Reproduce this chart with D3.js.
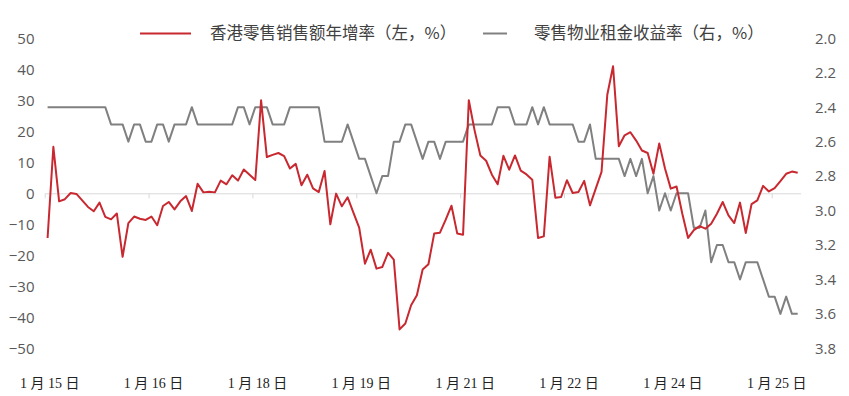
<!DOCTYPE html>
<html>
<head>
<meta charset="utf-8">
<script src="https://cdn.jsdelivr.net/npm/d3@7"></script>
<style>
  body { margin: 0; background: #fff; }
  svg { display: block; }
  .axis text { font-family: "Open Sans", "Noto Sans", sans-serif; font-size: 15px; fill: #595959; }
  .legend text { font-family: "Noto Sans CJK SC", sans-serif; font-size: 16.5px; fill: #404040; }
  .x-label { font-family: "Liberation Serif", "Noto Sans CJK SC", serif; font-size: 14px; fill: #222; }
</style>
</head>
<body>
<div id="chart"></div>
<script>
// Monthly data, Jan 2015 - Nov 2025
const startMonth = new Date(2015, 0, 1);
const monthCount = 131;

// 香港零售销售额年增率 (left axis, %)
const retailGrowth = [
  -14.4, 15.0, -2.6, -1.9, 0.1, -0.2, -2.3, -4.4, -5.8, -3.0, -7.6, -8.4,
  -6.5, -20.5, -9.6, -7.5, -8.2, -8.6, -7.5, -10.3, -4.1, -2.8, -5.2, -2.6,
  -0.9, -5.7, 3.1, 0.3, 0.5, 0.3, 4.1, 2.9, 5.8, 4.1, 7.7, 6.0,
  4.3, 30.0, 11.7, 12.4, 13.0, 12.0, 8.0, 9.5, 2.6, 6.0, 1.6, 0.4,
  7.2, -10.0, -0.1, -4.2, -1.3, -6.2, -11.1, -22.7, -18.2, -24.3, -23.8, -19.2,
  -21.4, -43.9, -42.0, -36.1, -32.9, -24.6, -22.9, -13.0, -12.7, -8.5, -4.0, -13.0,
  -13.4, 30.0, 20.3, 12.2, 10.5, 6.0, 2.9, 12.1, 7.6, 12.2, 7.3, 6.1,
  4.4, -14.4, -13.9, 11.8, -1.4, -1.2, 4.2, 0.1, 0.4, 4.0, -3.9, 1.5,
  6.9, 31.8, 41.0, 15.2, 18.7, 19.7, 17.0, 13.8, 13.0, 6.3, 16.1, 8.0,
  1.5, 2.2, -6.6, -14.4, -11.9, -10.6, -11.4, -9.8, -6.6, -2.8, -7.1, -9.6,
  -3.0, -12.8, -3.5, -2.3, 2.4, 0.6, 1.7, 3.9, 6.3, 7.0, 6.6
];

// 零售物业租金收益率 (right axis, %, inverted)
const rentalYield = [
  2.4, 2.4, 2.4, 2.4, 2.4, 2.4, 2.4, 2.4, 2.4, 2.4, 2.4, 2.5,
  2.5, 2.5, 2.6, 2.5, 2.5, 2.6, 2.6, 2.5, 2.5, 2.6, 2.5, 2.5,
  2.5, 2.4, 2.5, 2.5, 2.5, 2.5, 2.5, 2.5, 2.5, 2.4, 2.4, 2.5,
  2.4, 2.4, 2.4, 2.5, 2.5, 2.5, 2.4, 2.4, 2.4, 2.4, 2.4, 2.4,
  2.6, 2.6, 2.6, 2.6, 2.5, 2.6, 2.7, 2.7, 2.8, 2.9, 2.8, 2.8,
  2.6, 2.6, 2.5, 2.5, 2.6, 2.7, 2.6, 2.6, 2.7, 2.6, 2.6, 2.6,
  2.6, 2.5, 2.5, 2.5, 2.5, 2.5, 2.4, 2.4, 2.4, 2.5, 2.5, 2.5,
  2.4, 2.5, 2.4, 2.5, 2.5, 2.5, 2.5, 2.5, 2.6, 2.6, 2.5, 2.7,
  2.7, 2.7, 2.7, 2.7, 2.8, 2.7, 2.8, 2.7, 2.9, 2.8, 3.0, 2.9,
  3.0, 2.9, 2.9, 2.9, 3.1, 3.1, 3.0, 3.3, 3.2, 3.2, 3.3, 3.3,
  3.4, 3.3, 3.3, 3.3, 3.4, 3.5, 3.5, 3.6, 3.5, 3.6, 3.6
];

// x-axis ticks every 18 months, labels as printed on the source
const tickMonths = [0, 18, 36, 54, 72, 90, 108, 126];
const tickLabels = ["1 月 15 日", "1 月 16 日", "1 月 18 日", "1 月 19 日",
  "1 月 21 日", "1 月 22 日", "1 月 24 日", "1 月 25 日"];

const leftTicks = [50, 40, 30, 20, 10, 0, -10, -20, -30, -40, -50];
const rightTicks = [2.0, 2.2, 2.4, 2.6, 2.8, 3.0, 3.2, 3.4, 3.6, 3.8];

const legendItems = [
  { name: "香港零售销售额年增率（左，%）", color: "#c8282f" },
  { name: "零售物业租金收益率（右，%）", color: "#808080" }
];

const months = d3.range(monthCount).map((i) => d3.timeMonth.offset(startMonth, i));

const width = 849;
const height = 396;
const margin = { top: 38.3, right: 48.4, bottom: 47.7, left: 44.7 };

const svg = d3.select("#chart")
  .append("svg")
  .attr("width", width)
  .attr("height", height);

// Scales
const x = d3.scaleBand()
  .domain(months)
  .range([margin.left, width - margin.right]);

const xEdge = d3.scaleLinear()
  .domain([0, monthCount])
  .range([margin.left, width - margin.right]);

const yLeft = d3.scaleLinear()
  .domain([-50, 50])
  .range([height - margin.bottom, margin.top]);

const yRight = d3.scaleLinear()
  .domain([2.0, 3.8])
  .range([margin.top, height - margin.bottom]);

const xMid = (i) => x(months[i]) + x.bandwidth() / 2;

// Left axis
svg.append("g")
  .attr("class", "axis")
  .attr("transform", "translate(34.5,0)")
  .call(d3.axisLeft(yLeft).tickValues(leftTicks).tickSize(0).tickPadding(0))
  .call((g) => g.select(".domain").remove());

// Right axis
svg.append("g")
  .attr("class", "axis")
  .attr("transform", "translate(815,0)")
  .call(d3.axisRight(yRight).tickValues(rightTicks).tickSize(0).tickPadding(0)
    .tickFormat(d3.format(".1f")))
  .call((g) => g.select(".domain").remove());

// Category axis at zero
const gX = svg.append("g")
  .attr("transform", `translate(0,${yLeft(0)})`)
  .call(d3.axisBottom(xEdge).tickValues(tickMonths).tickSize(5).tickSizeOuter(0)
    .tickFormat(""));
gX.selectAll("path, line").attr("stroke", "#d9d9d9");

svg.append("g")
  .selectAll("text")
  .data(tickMonths)
  .join("text")
  .attr("class", "x-label")
  .attr("x", (d) => xEdge(d) + 5)
  .attr("y", 383)
  .attr("dy", "0.35em")
  .attr("text-anchor", "middle")
  .text((d, i) => tickLabels[i]);

// Lines
const lineLeft = d3.line()
  .x((d, i) => xMid(i))
  .y((d) => yLeft(d));

const lineRight = d3.line()
  .x((d, i) => xMid(i))
  .y((d) => yRight(d));

svg.append("path")
  .attr("fill", "none")
  .attr("stroke", legendItems[1].color)
  .attr("stroke-width", 2)
  .attr("stroke-linejoin", "round")
  .attr("d", lineRight(rentalYield));

svg.append("path")
  .attr("fill", "none")
  .attr("stroke", legendItems[0].color)
  .attr("stroke-width", 2)
  .attr("stroke-linejoin", "round")
  .attr("d", lineLeft(retailGrowth));

// Legend
const legendPos = [
  { x1: 140, x2: 191, tx: 210 },
  { x1: 483, x2: 507, tx: 534 }
];
const legend = svg.append("g")
  .attr("class", "legend")
  .selectAll("g")
  .data(legendItems)
  .join("g");
legend.append("line")
  .attr("x1", (d, i) => legendPos[i].x1)
  .attr("x2", (d, i) => legendPos[i].x2)
  .attr("y1", 33.5)
  .attr("y2", 33.5)
  .attr("stroke", (d) => d.color)
  .attr("stroke-width", 2);
legend.append("text")
  .attr("x", (d, i) => legendPos[i].tx)
  .attr("y", 33.5)
  .attr("dy", "0.35em")
  .text((d) => d.name);
</script>
</body>
</html>
